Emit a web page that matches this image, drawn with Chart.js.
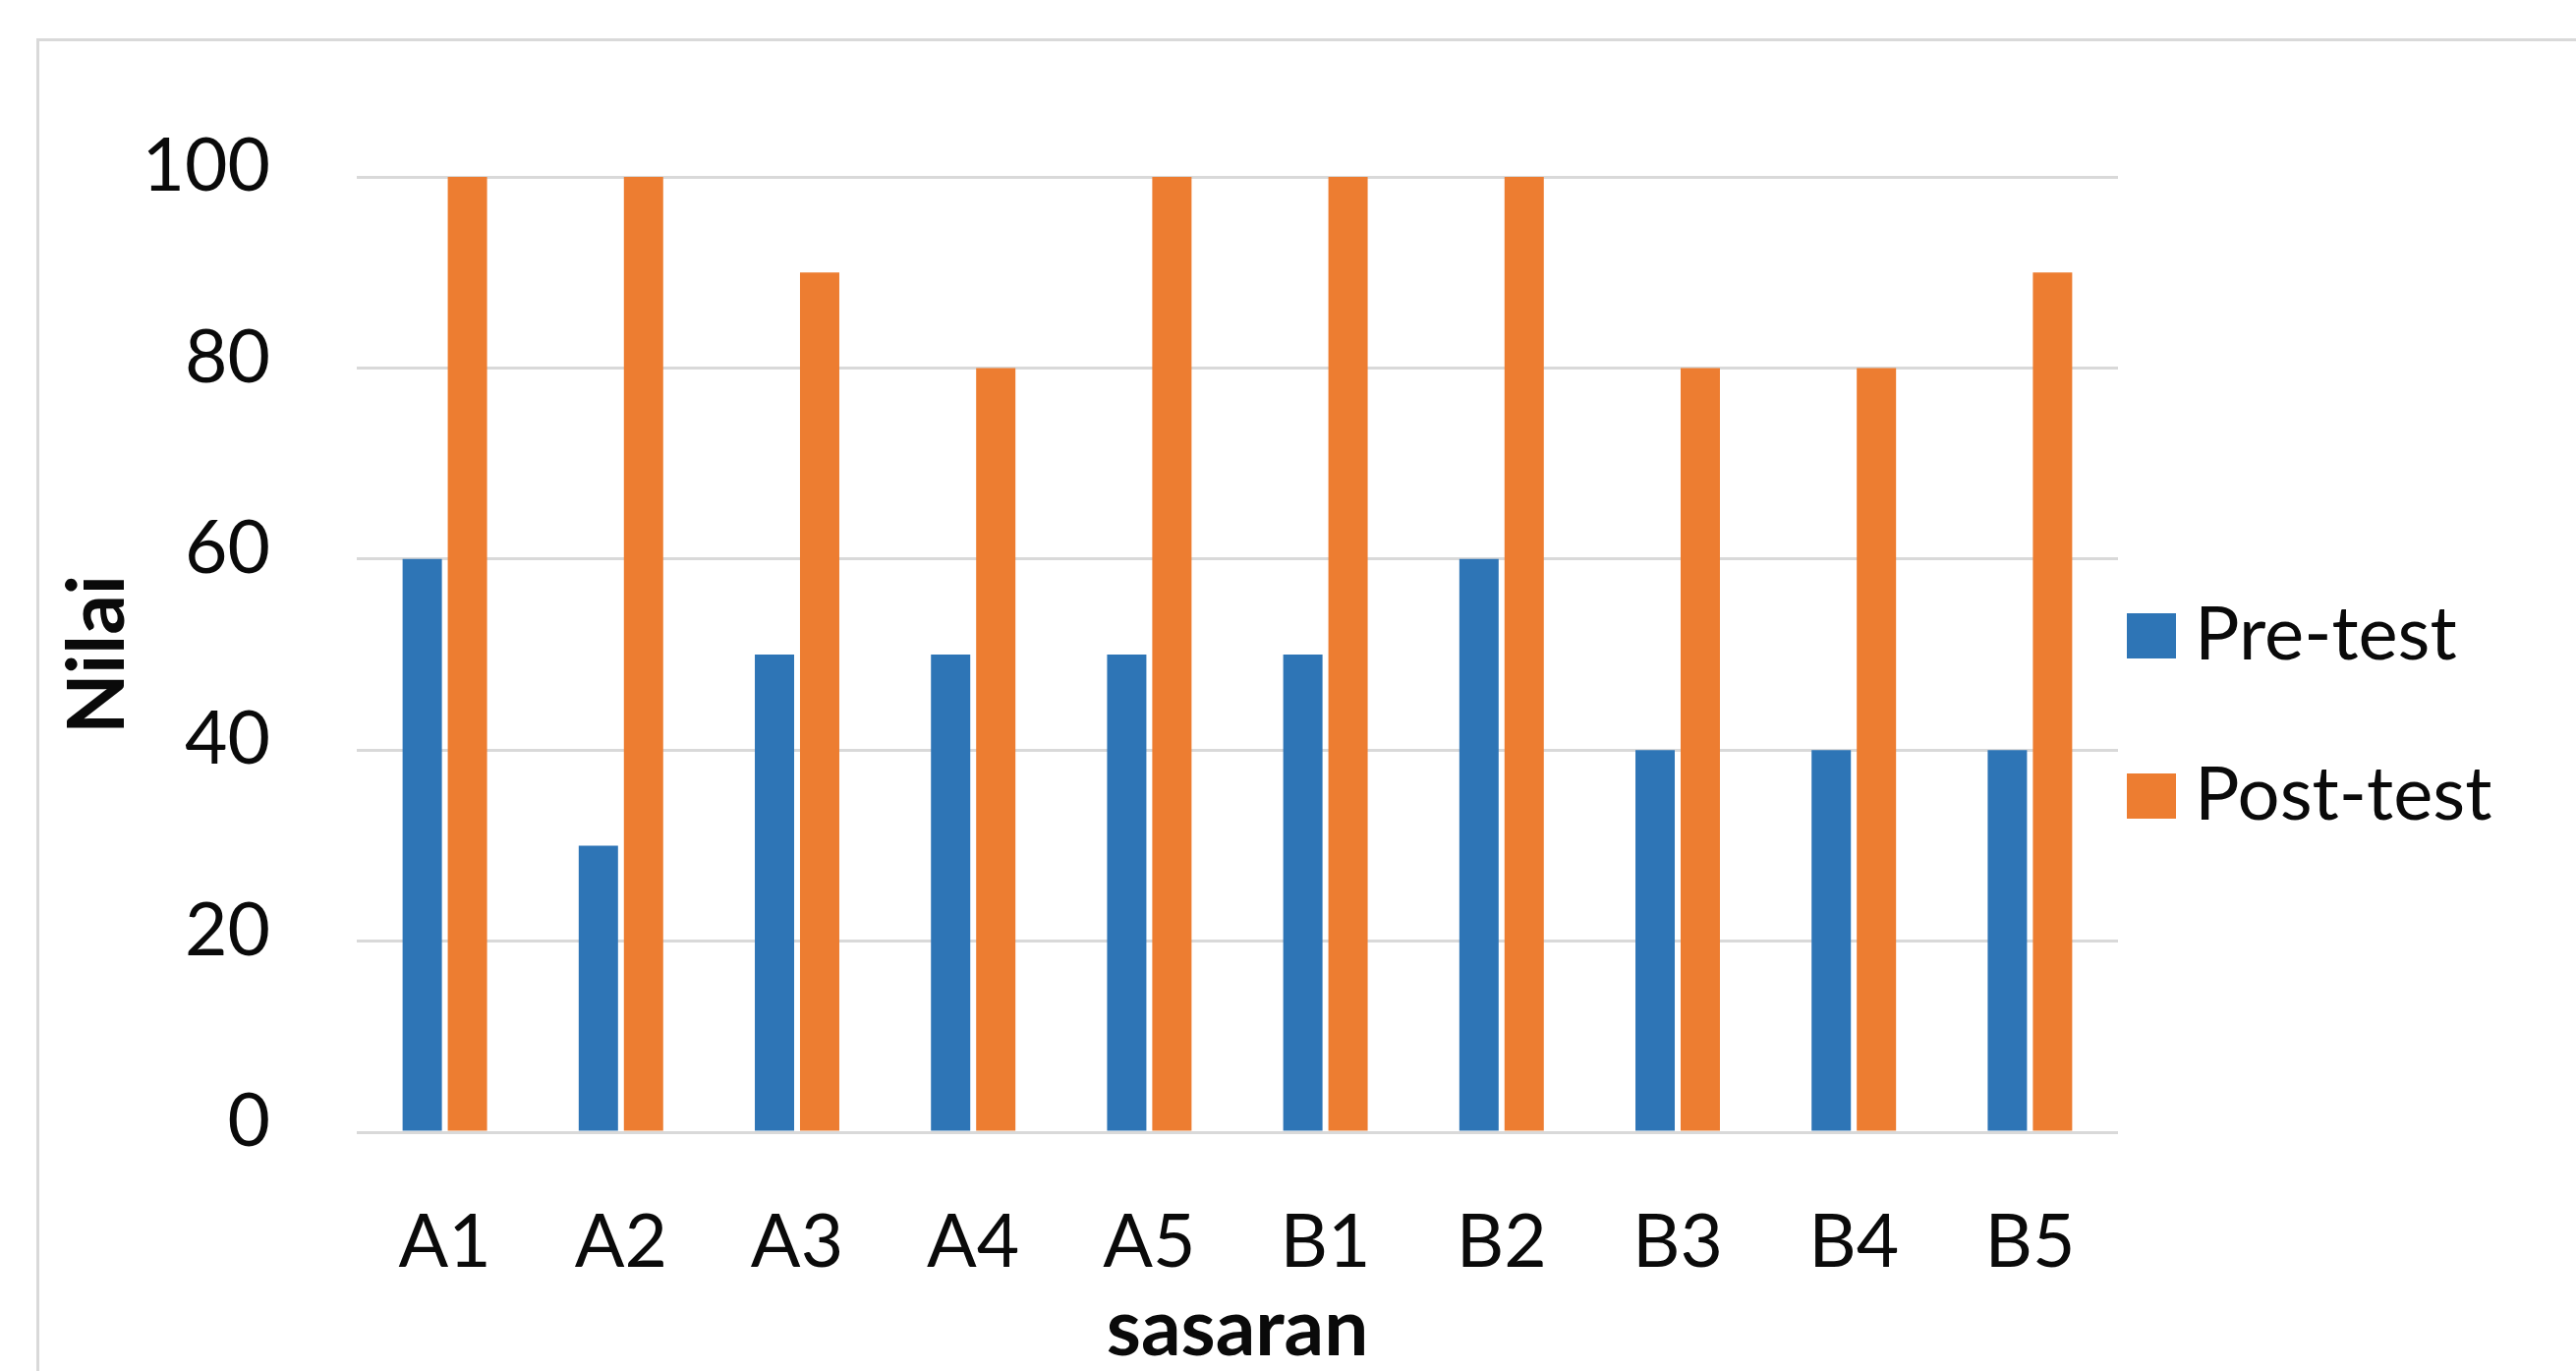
<!DOCTYPE html>
<html>
<head>
<meta charset="utf-8">
<script src="https://cdn.jsdelivr.net/npm/chart.js@4.4.1/dist/chart.umd.min.js"></script>
<style>
  html, body { margin: 0; padding: 0; background: #ffffff; }
  #wrap { position: relative; width: 2621px; height: 1395px; overflow: hidden; }
  /* light frame around the chart, running off the right and bottom edges */
  #frame { position: absolute; left: 37px; top: 39px; width: 2700px; height: 1500px;
           border: 3px solid #d9d9d9; box-sizing: border-box; }
  #chart { position: absolute; left: 0; top: 0; }
</style>
</head>
<body>
<div id="wrap">
  <div id="frame"></div>
  <canvas id="chart" width="2621" height="1395"></canvas>
</div>
<script>
// Scores per participant
const categories = ['A1', 'A2', 'A3', 'A4', 'A5', 'B1', 'B2', 'B3', 'B4', 'B5'];
const preTest    = [60, 30, 50, 50, 50, 50, 60, 40, 40, 40];
const postTest   = [100, 100, 90, 80, 100, 100, 100, 80, 80, 90];
const seriesNames = ['Pre-test', 'Post-test'];
const yTickValues = [0, 20, 40, 60, 80, 100];
const xAxisTitle = 'sasaran';
const yAxisTitle = 'Nilai';

// Styling
const seriesColors = ['#2E75B6', '#ED7D31'];
const gridColor = '#d9d9d9';
const textColor = '#0a0a0a';
const FONT = 'Lato, "Open Sans", sans-serif';

// Layout
const CANVAS_W = 2621, CANVAS_H = 1395;
const PLOT_LEFT = 363, PLOT_TOP = 180, PLOT_RIGHT = 2155, PLOT_BOTTOM = 1152;
const LEGEND_W = 300;

// Square legend swatches
function swatch(color) {
  const c = document.createElement('canvas');
  c.width = 50; c.height = 46;
  const g = c.getContext('2d');
  g.fillStyle = color;
  g.fillRect(0, 0, c.width, c.height);
  return c;
}
const swatches = seriesColors.map(swatch);

// Moves the legend block next to the plot and lets it use the space to the right edge
const legendNudge = {
  id: 'legendNudge',
  afterLayout(chart, args, opts) {
    const lg = chart.legend;
    if (!lg) return;
    lg.left += opts.dx;
    lg.right = chart.width;
    lg.top += opts.dy; lg.bottom += opts.dy;
  }
};

const datasets = [preTest, postTest].map((values, i) => ({
  label: seriesNames[i],
  data: values,
  backgroundColor: seriesColors[i],
  borderWidth: 0,
  categoryPercentage: 0.513,
  barPercentage: 0.87
}));

new Chart(document.getElementById('chart'), {
  type: 'bar',
  data: { labels: categories, datasets },
  plugins: [legendNudge],
  options: {
    responsive: false,
    animation: false,
    devicePixelRatio: 1,
    layout: {
      padding: { left: 0, top: PLOT_TOP, right: CANVAS_W - PLOT_RIGHT - LEGEND_W, bottom: 0 }
    },
    scales: {
      x: {
        grid: { display: false, drawTicks: false },
        border: { display: false },
        ticks: { color: textColor, font: { family: FONT, size: 75 }, padding: 68, maxRotation: 0 },
        title: { display: true, text: xAxisTitle, color: textColor,
                 font: { family: FONT, size: 80, weight: 'bold', lineHeight: 1 },
                 padding: { top: 0, bottom: 2 } },
        afterFit(scale) { scale.height = CANVAS_H - PLOT_BOTTOM; }
      },
      y: {
        min: 0, max: 100,
        afterBuildTicks(scale) { scale.ticks = yTickValues.map(v => ({ value: v })); },
        grid: { color: gridColor, lineWidth: 3, drawTicks: false },
        border: { display: false },
        ticks: { color: textColor, font: { family: FONT, size: 75 }, padding: 88, labelOffset: -10 },
        title: { display: true, text: yAxisTitle, color: textColor,
                 font: { family: FONT, size: 80, weight: 'bold' }, padding: { top: 52, bottom: 0 } },
        afterFit(scale) { scale.width = PLOT_LEFT; }
      }
    },
    plugins: {
      legend: {
        position: 'right',
        fullSize: false,
        maxWidth: LEGEND_W,
        labels: {
          color: textColor,
          font: { family: FONT, size: 76 },
          padding: 87,
          usePointStyle: true,
          pointStyleWidth: 12,
          generateLabels(chart) {
            const items = Chart.defaults.plugins.legend.labels.generateLabels(chart);
            items.forEach((it, i) => { it.pointStyle = swatches[i]; });
            return items;
          }
        }
      },
      legendNudge: { dx: -59, dy: 62 },
      tooltip: { enabled: false }
    }
  }
});
</script>
</body>
</html>
